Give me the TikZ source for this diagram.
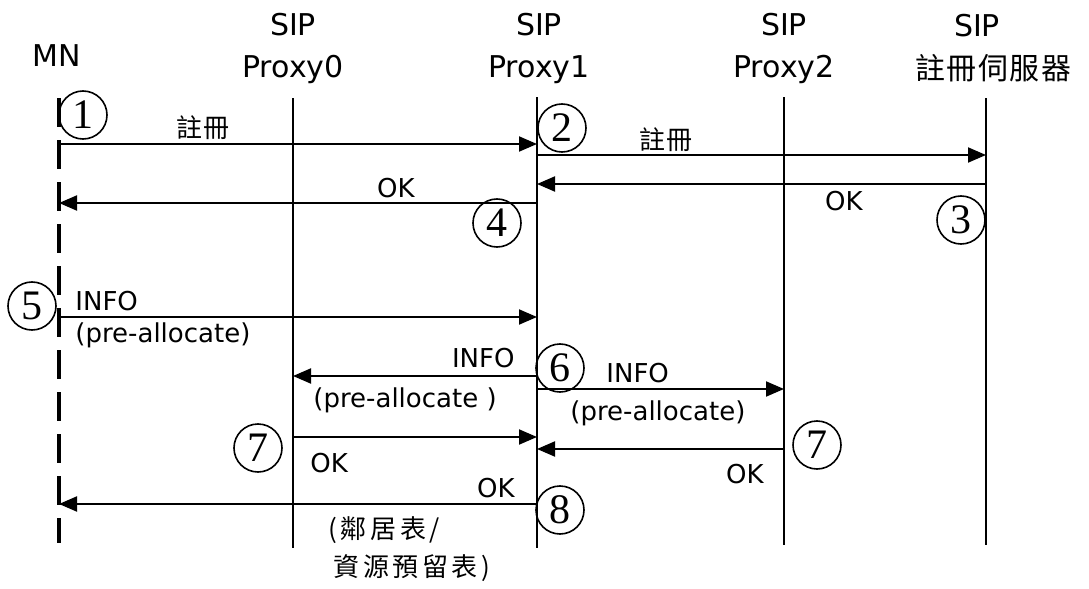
\documentclass[tikz,border=0pt]{standalone}
\usepackage{fontspec}
\setmainfont{DejaVu Sans}
\newfontfamily\cjk[LetterSpace=5]{Noto Sans CJK TC}
\newfontfamily\cjkwide[LetterSpace=14]{Noto Sans CJK TC}
\newfontfamily\numfont{Liberation Serif}
\usetikzlibrary{arrows.meta}

\begin{document}
\begin{tikzpicture}[x=0.5pt, y=-0.5pt,
    head/.style={font=\fontsize{15}{18}\selectfont, inner sep=0pt, anchor=base},
    lbl/.style={font=\fontsize{13}{15}\selectfont, inner sep=0pt},
    cjklbl/.style={font=\cjk\fontsize{13}{15}\selectfont, inner sep=0pt},
    num/.style={circle, draw, line width=0.8pt, minimum size=24pt, inner sep=0pt, font=\numfont\fontsize{21}{21}\selectfont},
    life/.style={line width=1pt},
    msg/.style={-{Triangle[length=9pt,width=7.5pt]}, line width=1pt}
]
    \useasboundingbox (0,0) rectangle (1089,589);

    % Headers
    \node[head] (mn) at (57,67) {MN};
    \node[head] (p0sip) at (293,35) {SIP};
    \node[head] (p0) at (293,77) {Proxy0};
    \node[head] (p1sip) at (539,35) {SIP};
    \node[head] (p1) at (539,77) {Proxy1};
    \node[head] (p2sip) at (784,35) {SIP};
    \node[head] (p2) at (784,77) {Proxy2};
    \node[head] (regsip) at (977,37) {SIP};
    \node[inner sep=0pt, font=\cjk\fontsize{15}{17}\selectfont] (reg) at (993,68) {註冊伺服器};

    % Lifelines
    \coordinate (mnT) at (59,98);   \coordinate (mnB) at (59,543);
    \coordinate (p0T) at (293,98);  \coordinate (p0B) at (293,548);
    \coordinate (p1T) at (537,97);  \coordinate (p1B) at (537,548);
    \coordinate (p2T) at (784,97);  \coordinate (p2B) at (784,545);
    \coordinate (regT) at (986,98); \coordinate (regB) at (986,545);
    \draw[line width=2pt, dash pattern=on 14.5pt off 6.5pt] (mnT) -- (mnB);
    \draw[life] (p0T) -- (p0B);
    \draw[life] (p1T) -- (p1B);
    \draw[life] (p2T) -- (p2B);
    \draw[life] (regT) -- (regB);

    % Registration
    \draw[msg] (mnT |- 0,144) -- (p1T |- 0,144);
    \draw[msg] (p1T |- 0,155) -- (regT |- 0,155);
    \draw[msg] (regT |- 0,184) -- (p1T |- 0,184);
    \draw[msg] (p1T |- 0,203) -- (mnT |- 0,203);
    \node[cjklbl] (reg1) at (203,128) {註冊};
    \node[cjklbl] (reg2) at (666,140) {註冊};
    \node[lbl, anchor=base] (ok3) at (844,210) {OK};
    \node[lbl, anchor=base east] (ok4) at (415,197) {OK};

    % Pre-allocation
    \draw[msg] (mnT |- 0,317) -- (p1T |- 0,317);
    \draw[msg] (p1T |- 0,376) -- (p0T |- 0,376);
    \draw[msg] (p1T |- 0,389) -- (p2T |- 0,389);
    \draw[msg] (p0T |- 0,437) -- (p1T |- 0,437);
    \draw[msg] (p2T |- 0,449) -- (p1T |- 0,449);
    \draw[msg] (p1T |- 0,504) -- (mnT |- 0,504);
    \node[lbl, anchor=base west] (info5) at (75,310) {INFO};
    \node[lbl, anchor=base west] (pre5) at (75,342) {(pre-allocate)};
    \node[lbl, anchor=base east] (info6a) at (515,367) {INFO};
    \node[lbl, anchor=base west] (pre6a) at (313,407) {(pre-allocate )};
    \node[lbl, anchor=base west] (info6b) at (606,382) {INFO};
    \node[lbl, anchor=base west] (pre6b) at (570,420) {(pre-allocate)};
    \node[lbl, anchor=base west] (ok7a) at (310,472) {OK};
    \node[lbl, anchor=base] (ok7b) at (745,483) {OK};
    \node[lbl, anchor=base east] (ok8) at (515,497) {OK};
    \node[inner sep=0pt, anchor=west, font=\cjkwide\fontsize{13}{15}\selectfont] (tab1) at (328,530) {(鄰居表/};
    \node[inner sep=0pt, anchor=west, font=\cjkwide\fontsize{13}{15}\selectfont] (tab2) at (333,568) {資源預留表)};

    % Step numbers
    \node[num] (n1) at (83,115) {1};
    \node[num] (n2) at (562,128) {2};
    \node[num] (n3) at (961,220) {3};
    \node[num] (n4) at (497,223) {4};
    \node[num] (n5) at (32,306) {5};
    \node[num] (n6) at (560,368) {6};
    \node[num] (n7a) at (258,448) {7};
    \node[num] (n7b) at (817,445) {7};
    \node[num] (n8) at (560,510) {8};
\end{tikzpicture}
\end{document}
